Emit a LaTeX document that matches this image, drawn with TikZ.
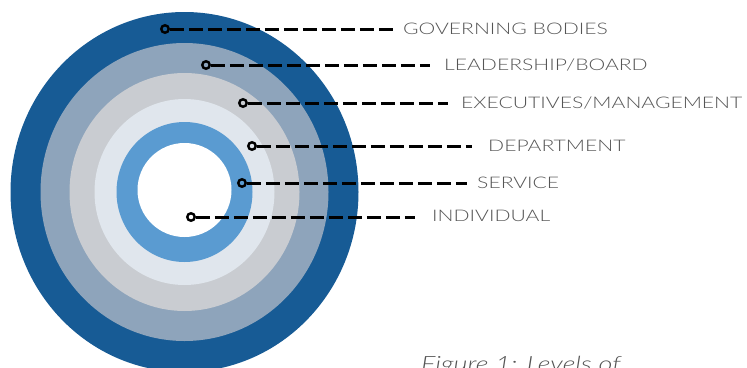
\documentclass[tikz,border=0pt]{standalone}
\usepackage{fontspec}
\setmainfont{Lato}[UprightFont=* Light, ItalicFont=* Light Italic]
\newfontfamily\levelfont{Lato}[UprightFont=* Light, FakeStretch=1.32]
\newfontfamily\captionfont{Lato}[UprightFont=* Light Italic, FakeStretch=1.29]
\definecolor{ringA}{HTML}{175B95}
\definecolor{ringB}{HTML}{8EA4BB}
\definecolor{ringC}{HTML}{C9CCD1}
\definecolor{ringD}{HTML}{E0E6ED}
\definecolor{ringE}{HTML}{5A9BD1}
\definecolor{labelgray}{HTML}{555555}
\begin{document}
\begin{tikzpicture}[x=1pt,y=-1pt,
  pin/.style={circle, draw=black, line width=2.4pt, inner sep=0pt, minimum size=7.5pt},
  leader/.style={line width=3pt, dash pattern=on 14pt off 5pt},
  levellabel/.style={anchor=base west, inner sep=0pt, text=labelgray, font=\levelfont\fontsize{16}{19}\selectfont},
  captiontext/.style={anchor=base west, inner sep=0pt, text=labelgray, font=\captionfont\fontsize{21}{25}\selectfont}]
\useasboundingbox (0,0) rectangle (747,367);

% concentric levels, outermost first
\fill[ringA] (184.5,192) ellipse [x radius=174, y radius=180];
\fill[ringB] (184.5,192) ellipse [x radius=144, y radius=149];
\fill[ringC] (184.5,192) ellipse [x radius=115, y radius=119];
\fill[ringD] (184.5,192) ellipse [x radius=90, y radius=93];
\fill[ringE] (184.5,192) ellipse [x radius=68, y radius=70];
\fill[white] (184.5,190) ellipse [x radius=47, y radius=47];

% markers on each level
\node[pin] (m1) at (165,29) {};
\node[pin] (m2) at (206,65) {};
\node[pin] (m3) at (243,103) {};
\node[pin] (m4) at (252,146) {};
\node[pin] (m5) at (242,183) {};
\node[pin] (m6) at (191,217) {};

% level names
\node[levellabel] (t1) at (403,34) {GOVERNING BODIES};
\node[levellabel] (t2) at (444,70) {LEADERSHIP/BOARD};
\node[levellabel] (t3) at (461,108) {EXECUTIVES/MANAGEMENT};
\node[levellabel] (t4) at (488,151) {DEPARTMENT};
\node[levellabel] (t5) at (477,188) {SERVICE};
\node[levellabel] (t6) at (432,221) {INDIVIDUAL};

% ends of the leader lines
\coordinate (e1) at (396,29);
\coordinate (e2) at (430,65);
\coordinate (e3) at (448,103);
\coordinate (e4) at (472,146);
\coordinate (e5) at (467,183);
\coordinate (e6) at (415,217);

\draw[leader] (m1.east) -- (e1);
\draw[leader] (m2.east) -- (e2);
\draw[leader] (m3.east) -- (e3);
\draw[leader] (m4.east) -- (e4);
\draw[leader] (m5.east) -- (e5);
\draw[leader] (m6.east) -- (e6);

\node[captiontext] (cap) at (421,371) {Figure 1: Levels of};
\end{tikzpicture}
\end{document}
